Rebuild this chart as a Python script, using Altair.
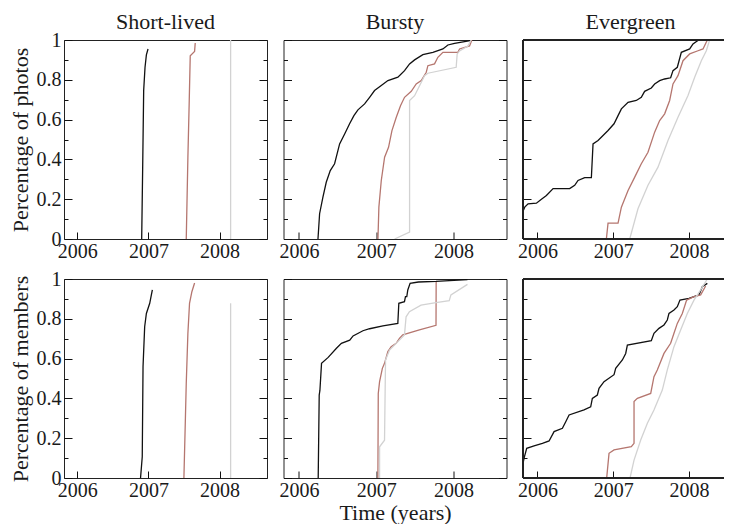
import altair as alt
import pandas as pd

FONT = "Liberation Serif"
SERIES = ["dark", "brown", "light"]
COLORS = ["#111111", "#b5766f", "#d2d2d2"]
COLUMN_TITLES = ["Short-lived", "Bursty", "Evergreen"]
ROW_TITLES = ["Percentage of photos", "Percentage of members"]
X_TITLE = "Time (years)"
YEAR_TICKS = [2006, 2007, 2008]
Y_MAJOR = [0, 0.2, 0.4, 0.6, 0.8, 1]
Y_MINOR = [0.1, 0.3, 0.5, 0.7, 0.9]

# ---- Short-lived, photos ----
SP_DARK_T = [2006.906, 2006.92, 2006.934, 2006.953, 2006.972, 2006.995]
SP_DARK_P = [0, 0.361, 0.746, 0.863, 0.925, 0.955]
SP_BROWN_T = [2007.532, 2007.555, 2007.574, 2007.588, 2007.649, 2007.658]
SP_BROWN_P = [0, 0.411, 0.696, 0.921, 0.943, 0.985]
SP_LIGHT_T = [2008.155, 2008.155]
SP_LIGHT_P = [0, 1.0]

# ---- Bursty, photos ----
BP_DARK_T = [2006.246, 2006.267, 2006.310, 2006.353, 2006.405, 2006.461, 2006.526, 2006.591,
             2006.655, 2006.711, 2006.763, 2006.849, 2006.914, 2006.978, 2007.065, 2007.151,
             2007.280, 2007.366, 2007.431, 2007.496, 2007.603, 2007.733, 2007.862, 2007.927,
             2008.013, 2008.142, 2008.25]
BP_DARK_P = [0, 0.127, 0.21, 0.285, 0.344, 0.378, 0.478, 0.528, 0.579, 0.62, 0.649, 0.679,
             0.712, 0.746, 0.771, 0.796, 0.813, 0.846, 0.88, 0.9, 0.926, 0.938, 0.955, 0.975,
             0.983, 0.992, 1.0]
BP_BROWN_T = [2007.022, 2007.034, 2007.065, 2007.108, 2007.159, 2007.203, 2007.259, 2007.315,
              2007.366, 2007.453, 2007.517, 2007.582, 2007.647, 2007.668, 2007.754, 2007.797,
              2007.862, 2008.056, 2008.078, 2008.207, 2008.237]
BP_BROWN_P = [0, 0.16, 0.294, 0.411, 0.461, 0.545, 0.612, 0.671, 0.712, 0.742, 0.779, 0.796,
              0.838, 0.871, 0.88, 0.913, 0.938, 0.938, 0.955, 0.97, 1.0]
BP_LIGHT_T = [2007.237, 2007.431, 2007.431, 2007.496, 2007.625, 2007.668, 2008.034, 2008.047,
              2008.078, 2008.185, 2008.228]
BP_LIGHT_P = [0, 0.035, 0.696, 0.72, 0.821, 0.833, 0.863, 0.93, 0.945, 0.97, 1.0]

# ---- Evergreen, photos ----
EP_DARK_T = [2005.81, 2005.833, 2005.877, 2005.987, 2006.053, 2006.119, 2006.207, 2006.426,
             2006.492, 2006.536, 2006.624, 2006.712, 2006.734, 2006.80, 2006.866, 2006.932,
             2007.011, 2007.064, 2007.108, 2007.196, 2007.305, 2007.371, 2007.415, 2007.503,
             2007.547, 2007.613, 2007.679, 2007.758, 2007.789, 2007.846, 2007.899, 2008.009,
             2008.053, 2008.127]
EP_DARK_P = [0.14, 0.16, 0.177, 0.18, 0.2, 0.219, 0.253, 0.253, 0.27, 0.294, 0.308, 0.308,
             0.478, 0.495, 0.52, 0.545, 0.579, 0.62, 0.654, 0.687, 0.696, 0.712, 0.742, 0.759,
             0.779, 0.796, 0.804, 0.81, 0.846, 0.863, 0.938, 0.955, 0.98, 1.0]
EP_BROWN_T = [2006.91, 2006.932, 2007.064, 2007.108, 2007.196, 2007.284, 2007.371, 2007.459,
              2007.547, 2007.613, 2007.679, 2007.745, 2007.789, 2007.855, 2007.921, 2008.009,
              2008.119, 2008.185, 2008.242]
EP_BROWN_P = [0, 0.08, 0.08, 0.16, 0.244, 0.311, 0.378, 0.436, 0.537, 0.595, 0.629, 0.696,
              0.779, 0.821, 0.896, 0.93, 0.946, 0.955, 1.0]
EP_LIGHT_T = [2007.218, 2007.327, 2007.459, 2007.591, 2007.723, 2007.855, 2007.987, 2008.075,
              2008.163, 2008.229, 2008.272]
EP_LIGHT_P = [0, 0.152, 0.27, 0.361, 0.495, 0.612, 0.721, 0.813, 0.896, 0.946, 1.0]

# ---- Short-lived, members ----
SM_DARK_T = [2006.89, 2006.914, 2006.925, 2006.948, 2006.972, 2007.019, 2007.042, 2007.056]
SM_DARK_P = [0, 0.107, 0.56, 0.76, 0.827, 0.878, 0.92, 0.945]
SM_BROWN_T = [2007.499, 2007.52, 2007.532, 2007.555, 2007.578, 2007.611, 2007.649]
SM_BROWN_P = [0, 0.3, 0.476, 0.727, 0.878, 0.936, 0.98]
SM_LIGHT_T = [2008.155, 2008.155]
SM_LIGHT_P = [0, 0.878]

# ---- Bursty, members ----
BM_DARK_T = [2006.249, 2006.262, 2006.271, 2006.292, 2006.378, 2006.485, 2006.549, 2006.657,
             2006.70, 2006.828, 2006.914, 2007.086, 2007.279, 2007.292, 2007.365, 2007.378,
             2007.395, 2007.408, 2007.438, 2007.545, 2007.773, 2008.18]
BM_DARK_P = [0, 0.417, 0.44, 0.576, 0.606, 0.652, 0.677, 0.693, 0.714, 0.74, 0.75, 0.764,
             0.777, 0.878, 0.886, 0.911, 0.911, 0.945, 0.978, 0.985, 0.988, 0.997]
BM_BROWN_T = [2007.021, 2007.026, 2007.043, 2007.079, 2007.107, 2007.15, 2007.193, 2007.258,
              2007.30, 2007.343, 2007.558, 2007.773, 2007.775]
BM_BROWN_P = [0, 0.425, 0.484, 0.551, 0.576, 0.635, 0.66, 0.677, 0.702, 0.719, 0.744, 0.767, 0.985]
BM_LIGHT_T = [2007.043, 2007.043, 2007.107, 2007.12, 2007.172, 2007.30, 2007.365, 2007.386,
              2007.429, 2007.579, 2007.773, 2007.944, 2007.966, 2008.18]
BM_LIGHT_P = [0, 0.157, 0.19, 0.593, 0.643, 0.693, 0.719, 0.81, 0.836, 0.869, 0.881, 0.891,
              0.92, 0.973]

# ---- Evergreen, members ----
EM_DARK_T = [2005.811, 2005.824, 2005.859, 2005.956, 2006.066, 2006.154, 2006.22, 2006.33,
             2006.374, 2006.418, 2006.615, 2006.703, 2006.725, 2006.791, 2006.813, 2006.879,
             2007.011, 2007.033, 2007.121, 2007.165, 2007.187, 2007.503, 2007.538, 2007.604,
             2007.67, 2007.714, 2007.736, 2007.802, 2007.846, 2007.881, 2008.0, 2008.132,
             2008.176, 2008.242]
EM_DARK_P = [0.074, 0.1, 0.149, 0.161, 0.174, 0.186, 0.233, 0.25, 0.283, 0.317, 0.342, 0.358,
             0.4, 0.417, 0.451, 0.484, 0.519, 0.551, 0.593, 0.626, 0.668, 0.69, 0.727, 0.752,
             0.769, 0.794, 0.827, 0.844, 0.861, 0.894, 0.903, 0.92, 0.961, 0.978]
EM_BROWN_T = [2006.914, 2006.945, 2007.011, 2007.239, 2007.275, 2007.275, 2007.319, 2007.495,
              2007.538, 2007.582, 2007.67, 2007.758, 2007.802, 2007.846, 2007.912, 2007.969,
              2008.066, 2008.154, 2008.22]
EM_BROWN_P = [0, 0.124, 0.141, 0.157, 0.174, 0.384, 0.4, 0.425, 0.509, 0.543, 0.626, 0.677,
              0.727, 0.777, 0.827, 0.894, 0.911, 0.92, 0.965]
EM_LIGHT_T = [2007.222, 2007.275, 2007.363, 2007.451, 2007.538, 2007.648, 2007.714, 2007.802,
              2007.89, 2007.978, 2008.066, 2008.154, 2008.242]
EM_LIGHT_P = [0, 0.09, 0.191, 0.275, 0.342, 0.442, 0.543, 0.66, 0.744, 0.827, 0.894, 0.945, 1.0]

# column layout: x-domains and plot widths (the third panel is cut at the page edge)
X_DOMAINS = [[2005.815, 2008.666], [2005.80, 2008.685], [2005.81, 2008.462]]
WIDTHS = [203, 223, 201]
TITLE_DX = [0, 0, 7]
HEIGHT = 199
TEXT = "#1a1a1a"


def make_df(pairs):
    rows = []
    for name, (ts, ps) in zip(SERIES, pairs):
        for i, (t, p) in enumerate(zip(ts, ps)):
            rows.append({"series": name, "t": t, "p": p, "i": i})
    return pd.DataFrame(rows)


PANELS = [
    make_df([(SP_DARK_T, SP_DARK_P), (SP_BROWN_T, SP_BROWN_P), (SP_LIGHT_T, SP_LIGHT_P)]),
    make_df([(BP_DARK_T, BP_DARK_P), (BP_BROWN_T, BP_BROWN_P), (BP_LIGHT_T, BP_LIGHT_P)]),
    make_df([(EP_DARK_T, EP_DARK_P), (EP_BROWN_T, EP_BROWN_P), (EP_LIGHT_T, EP_LIGHT_P)]),
    make_df([(SM_DARK_T, SM_DARK_P), (SM_BROWN_T, SM_BROWN_P), (SM_LIGHT_T, SM_LIGHT_P)]),
    make_df([(BM_DARK_T, BM_DARK_P), (BM_BROWN_T, BM_BROWN_P), (BM_LIGHT_T, BM_LIGHT_P)]),
    make_df([(EM_DARK_T, EM_DARK_P), (EM_BROWN_T, EM_BROWN_P), (EM_LIGHT_T, EM_LIGHT_P)]),
]

color = alt.Color("series:N", scale=alt.Scale(domain=SERIES, range=COLORS), legend=None)
yscale = alt.Scale(domain=[0, 1], nice=False, zero=False)


def y_axis(orient, values, size, labels=False, title=None):
    return alt.Axis(orient=orient, values=values, tickSize=size, offset=-size, domain=False,
                    grid=False, labels=labels, format="~g", labelFont=FONT, labelFontSize=20,
                    labelColor=TEXT, labelPadding=3, tickColor="#111", tickWidth=1,
                    title=title, titleFont=FONT, titleFontSize=22, titleFontWeight="normal",
                    titleColor=TEXT, titlePadding=4)


def panel(idx):
    row, col = divmod(idx, 3)
    df = PANELS[idx]
    w = WIDTHS[col]
    xscale = alt.Scale(domain=X_DOMAINS[col], nice=False, zero=False)
    xtitle = X_TITLE if (row == 1 and col == 1) else None
    xaxis = alt.Axis(orient="bottom", values=YEAR_TICKS, format="d", tickSize=7, offset=-7,
                     domain=False, grid=False, labelFont=FONT, labelFontSize=20,
                     labelColor=TEXT, labelPadding=2, tickColor="#111", tickWidth=1,
                     title=xtitle, titleFont=FONT, titleFontSize=22,
                     titleFontWeight="normal", titleColor=TEXT, titlePadding=2)
    base = alt.Chart(df)
    main = base.mark_line(strokeWidth=1.3, clip=True).encode(
        x=alt.X("t:Q", scale=xscale, axis=xaxis),
        y=alt.Y("p:Q", scale=yscale,
                axis=y_axis("left", Y_MAJOR, 8, labels=(col == 0),
                            title=ROW_TITLES[row] if col == 0 else None)),
        color=color, order="i:Q")
    ghost = base.mark_line(opacity=0)
    specs = [("left", Y_MINOR, 4)]
    if col < 2:
        specs += [("right", Y_MAJOR, 8), ("right", Y_MINOR, 4)]
    layers = [
        ghost.encode(x=alt.X("t:Q", scale=xscale, axis=None),
                     y=alt.Y("p:Q", scale=yscale, axis=y_axis(o, v, s)),
                     detail="series:N", order="i:Q")
        for (o, v, s) in specs
    ]
    if col == 2:
        frame = alt.Chart(df).mark_rule(color="#222", strokeWidth=1)
        layers += [
            frame.encode(x=alt.value(0), x2=alt.value(w), y=alt.value(0)),
            frame.encode(x=alt.value(0), x2=alt.value(w), y=alt.value(HEIGHT)),
            frame.encode(x=alt.value(0), y=alt.value(0), y2=alt.value(HEIGHT)),
        ]
    if row == 0:
        head = alt.Chart(pd.DataFrame({"label": [COLUMN_TITLES[col]]})).mark_text(
            font=FONT, fontSize=22, color=TEXT, baseline="alphabetic", align="center")
        layers.append(head.encode(text="label:N",
                                  x=alt.value(w / 2 + TITLE_DX[col]),
                                  y=alt.value(-11)))
    ch = alt.layer(main, *layers).resolve_axis(x="independent", y="independent")
    props = dict(width=w, height=HEIGHT)
    if col == 2:
        props["view"] = alt.ViewBackground(strokeOpacity=0)
    return ch.properties(**props)


chart = alt.concat(*[panel(i) for i in range(6)], columns=3,
                   spacing=alt.RowColnumber(row=40, column=16.5),
                   bounds="flush", align="each").properties(
    padding={"left": 0, "top": 2, "right": 0, "bottom": 0},
    background="white",
).configure_view(stroke="#222", strokeWidth=1)

chart.save("out.html", embed_options={"renderer": "svg", "actions": False})
